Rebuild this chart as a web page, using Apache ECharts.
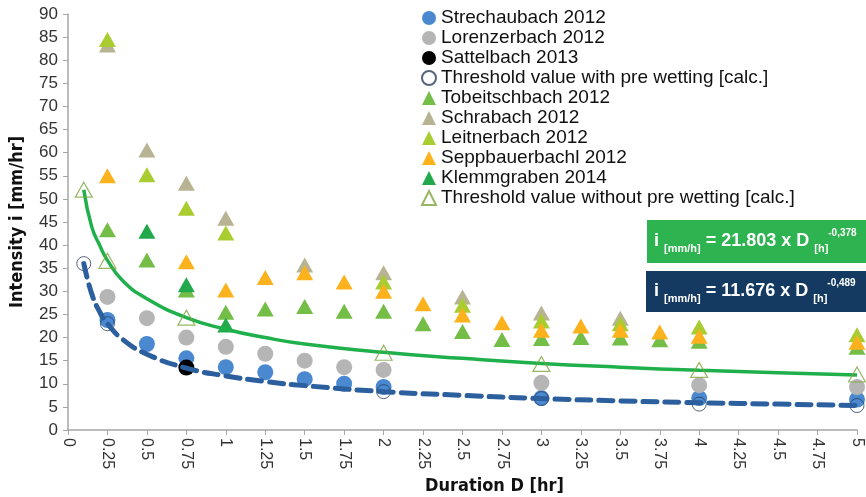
<!DOCTYPE html>
<html>
<head>
<meta charset="utf-8">
<script src="https://cdn.jsdelivr.net/npm/echarts@6/dist/echarts.min.js"></script>
<style>
  html, body { margin: 0; padding: 0; background: #fff; }
  #main { width: 866px; height: 497px; }
</style>
</head>
<body>
<div id="main"></div>
<script>
// measured points [duration hr, intensity mm/hr]
var strechaubach = [[0.25,23.8],[0.5,18.6],[0.75,15.5],[1,13.6],[1.25,12.5],[1.5,11],[1.75,10],[2,9.3],[3,6.9],[4,6.9],[5,6.6]];
var lorenzerbach = [[0.25,28.8],[0.5,24.2],[0.75,20],[1,18],[1.25,16.5],[1.5,15],[1.75,13.6],[2,13],[3,10.2],[4,9.7],[5,9.3]];
var sattelbach = [[0.75,13.5]];
var threshWith = [[0.1,36],[0.25,23],[2,8.3],[3,6.8],[4,5.6],[5,5.3]];
var tobeitschbach = [[0.25,43.3],[0.5,36.8],[0.75,30.3],[1,25.5],[1.25,26.2],[1.5,26.7],[1.75,25.7],[2,25.7],[2.25,23],[2.5,21.3],[2.75,19.6],[3,19.8],[3.25,20],[3.5,19.9],[3.75,19.5],[4,19.2],[5,17.9]];
var schrabach = [[0.25,83.3],[0.5,60.6],[0.75,53.4],[1,45.8],[1.5,35.7],[2,34],[2.5,28.8],[3,25.3],[3.5,24.2]];
var leitnerbach = [[0.25,84.5],[0.5,55.2],[0.75,48],[1,42.6],[2,32],[2.5,27],[3,23.6],[3.5,23],[4,22.3],[5,20.6]];
var seppbauerbachl = [[0.25,55],[0.75,36.4],[1,30.3],[1.25,33],[1.5,34],[1.75,32],[2,30],[2.25,27.3],[2.5,24.9],[2.75,23.2],[3,21.6],[3.25,22.5],[3.5,21.6],[3.75,21.2],[4,20.3],[5,19]];
var klemmgraben = [[0.5,43],[0.75,31.4],[1,22.7]];
var threshWithout = [[0.1,52],[0.25,36.6],[0.75,24.3],[2,16.7],[3,14.3],[4,13],[5,12]];

// fitted curves
var curveWithout = [[0.1,52],[0.15,44],[0.2,40],[0.25,36.7],[0.35,32.2],[0.5,28.4],[0.75,24.3],[1,21.8],[1.25,20],[1.5,18.6],[2,16.8],[2.5,15.5],[3,14.4],[3.5,13.6],[4,12.9],[4.5,12.4],[5,11.9]];
var curveWith = [[0.1,36],[0.15,29.5],[0.2,25.6],[0.25,23],[0.35,19.5],[0.5,16.4],[0.75,13.4],[1,11.7],[1.25,10.5],[1.5,9.6],[2,8.3],[2.5,7.5],[3,6.8],[3.5,6.3],[4,5.9],[4.5,5.6],[5,5.3]];

var legendNames = ['Strechaubach 2012','Lorenzerbach 2012','Sattelbach 2013','Threshold value with pre wetting [calc.]',
  'Tobeitschbach 2012','Schrabach 2012','Leitnerbach 2012','Seppbauerbachl 2012','Klemmgraben 2014','Threshold value without pre wetting [calc.]'];

var narrow = "'Liberation Sans Narrow', 'DejaVu Sans Condensed', 'Liberation Sans', sans-serif";
var arial = "'Liberation Sans', Arial, sans-serif";

function dot(name, data, color) {
  return { name: name, type: 'scatter', data: data, symbol: 'circle', symbolSize: 16,
    itemStyle: { color: color, opacity: 1 } };
}
function tri(name, data, color) {
  return { name: name, type: 'scatter', data: data, symbol: 'triangle', symbolSize: [17, 15],
    itemStyle: { color: color, opacity: 1 } };
}
function formula(coef, expo) {
  return '{a|i }{b|[mm/h]}{a| = ' + coef + ' x D }{b|[h]}{c|' + expo + '}';
}
var richEq = {
  a: { fill: '#fff', fontFamily: arial, fontWeight: 'bold', fontSize: 18, lineHeight: 26 },
  b: { fill: '#fff', fontFamily: arial, fontWeight: 'bold', fontSize: 11, lineHeight: 13, verticalAlign: 'bottom' },
  c: { fill: '#fff', fontFamily: arial, fontWeight: 'bold', fontSize: 10, lineHeight: 12, verticalAlign: 'top' }
};

var chart = echarts.init(document.getElementById('main'));
chart.setOption({
  animation: false,
  backgroundColor: '#fff',
  grid: { left: 68, right: 9, top: 14, bottom: 67, containLabel: false, outerBoundsMode: 'none' },
  legend: {
    orient: 'vertical', left: 416, top: 3,
    itemWidth: 14, itemHeight: 14, itemGap: 0,
    data: legendNames,
    textStyle: { fontFamily: arial, fontSize: 19, color: '#111', lineHeight: 20 }
  },
  xAxis: {
    type: 'value', min: 0, max: 5, interval: 0.25,
    name: 'Duration D [hr]', nameLocation: 'middle', nameGap: 47,
    nameTextStyle: { fontFamily: narrow, fontWeight: 'bold', fontSize: 18, color: '#111', padding: [0, 0, 0, 64] },
    axisLine: { lineStyle: { color: '#a6a6a6', width: 1.5 } },
    axisTick: { show: true, length: 5, lineStyle: { color: '#a6a6a6' } },
    axisLabel: { rotate: -90, fontFamily: arial, fontSize: 16, color: '#333', margin: 8 },
    splitLine: { show: false }
  },
  yAxis: {
    type: 'value', min: 0, max: 90, interval: 5,
    name: 'Intensity i [mm/hr]', nameLocation: 'middle', nameGap: 42,
    nameTextStyle: { fontFamily: narrow, fontWeight: 'bold', fontSize: 18, color: '#111' },
    axisLine: { show: true, lineStyle: { color: '#a6a6a6', width: 1.5 } },
    axisTick: { show: true, length: 5, lineStyle: { color: '#a6a6a6' } },
    axisLabel: { fontFamily: arial, fontSize: 17, color: '#333', margin: 10 },
    splitLine: { show: false }
  },
  series: [
    dot('Strechaubach 2012', strechaubach, '#4a89d0'),
    dot('Lorenzerbach 2012', lorenzerbach, '#b5b5b5'),
    dot('Sattelbach 2013', sattelbach, '#000000'),
    { name: 'Threshold value with pre wetting [calc.]', type: 'scatter', data: threshWith, symbol: 'circle', symbolSize: 14,
      itemStyle: { color: 'rgba(255,255,255,0)', borderColor: '#2b3f5c', borderWidth: 1 } },
    tri('Tobeitschbach 2012', tobeitschbach, '#74bd47'),
    tri('Schrabach 2012', schrabach, '#b8b392'),
    tri('Leitnerbach 2012', leitnerbach, '#a9cd30'),
    tri('Seppbauerbachl 2012', seppbauerbachl, '#fbb21c'),
    tri('Klemmgraben 2014', klemmgraben, '#21a94b'),
    { name: 'fit with', type: 'line', data: curveWith, smooth: true, showSymbol: false, z: 3,
      lineStyle: { color: '#2c5f9d', width: 5, type: [14, 8], cap: 'round' } },
    { name: 'fit without', type: 'line', data: curveWithout, smooth: true, showSymbol: false, z: 3,
      lineStyle: { color: '#1fb04c', width: 3.5 } },
    { name: 'Threshold value without pre wetting [calc.]', type: 'scatter', data: threshWithout, symbol: 'triangle', symbolSize: [17, 15], z: 4,
      itemStyle: { color: 'rgba(255,255,255,0)', borderColor: '#7ea53e', borderWidth: 1.2 } }
  ],
  graphic: [
    { type: 'rect', left: 647, top: 220, shape: { width: 219, height: 43 }, style: { fill: '#2db34f' } },
    { type: 'rect', left: 646, top: 271, shape: { width: 220, height: 41 }, style: { fill: '#143a62' } },
    { type: 'text', left: 654, top: 228, style: { text: formula('21.803', '-0,378'), rich: richEq } },
    { type: 'text', left: 654, top: 278, style: { text: formula('11.676', '-0,489'), rich: richEq } }
  ]
});
</script>
</body>
</html>
